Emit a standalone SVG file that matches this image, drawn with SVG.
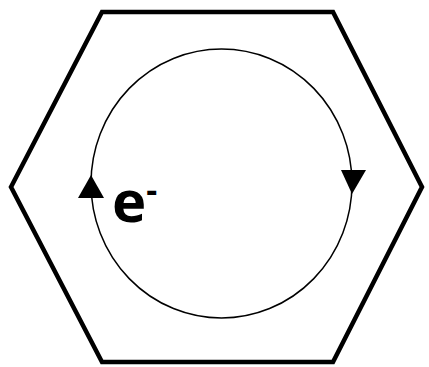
<svg xmlns="http://www.w3.org/2000/svg" width="429" height="367" viewBox="0 0 429 367">
<style>
.hex{fill:none;stroke:#000;stroke-width:4.5;stroke-linejoin:miter}
.loop{fill:none;stroke:#000;stroke-width:1.5}
.head{fill:#000;stroke:none}
.lbl{font-family:"Open Sans","Liberation Sans",sans-serif;font-weight:bold;fill:#000}
</style>
<g id="hexagon"><polygon class="hex" points="102,12 333,12 422,187 333,362 102,362 11,187"/></g>
<g id="connectors">
<ellipse class="loop" cx="221.5" cy="183.5" rx="130.5" ry="134.5"/>
<polygon class="head" points="91,175 78,198 104,198"/>
<polygon class="head" points="341,170 366,170 352,194"/>
</g>
<g id="label"><text class="lbl" x="112" y="222" font-size="58">e<tspan dy="-20" font-size="34">-</tspan></text></g>
</svg>
